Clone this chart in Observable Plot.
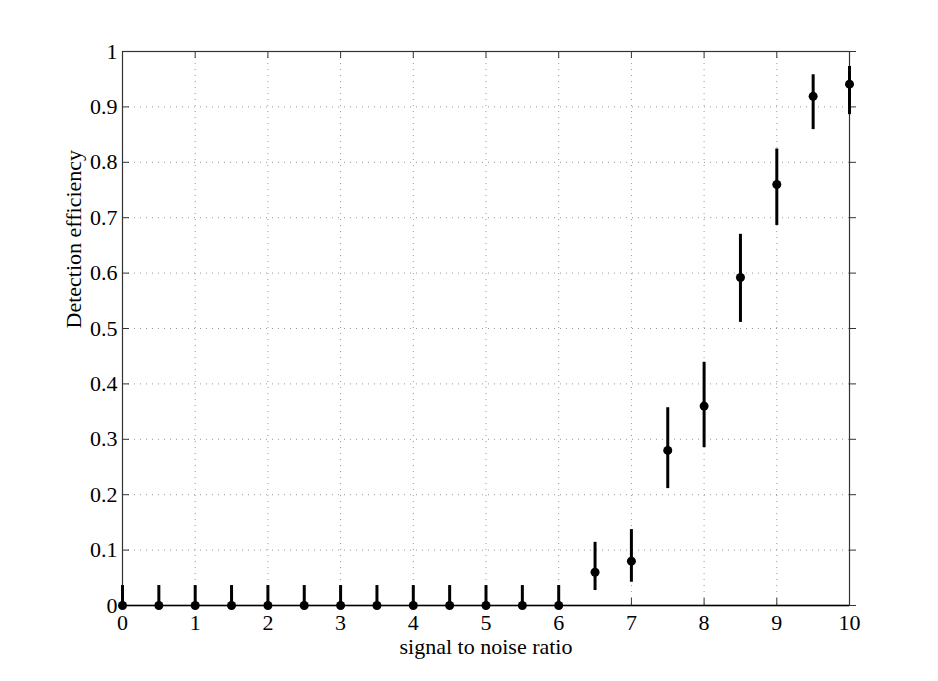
<!DOCTYPE html>
<html>
<head>
<meta charset="utf-8">
<script src="https://cdn.jsdelivr.net/npm/d3@7"></script>
<script src="https://cdn.jsdelivr.net/npm/@observablehq/plot@0.6"></script>
<style>
  html, body { margin: 0; padding: 0; background: #fff; }
  #chart svg text { font-family: 'Liberation Serif', 'Times New Roman', serif !important; font-variant: normal !important; }
</style>
</head>
<body>
<div id="chart"></div>
<script>
// Data
const snr   = [0, 0.5, 1, 1.5, 2, 2.5, 3, 3.5, 4, 4.5, 5, 5.5, 6, 6.5, 7, 7.5, 8, 8.5, 9, 9.5, 10];
const eff   = [0, 0, 0, 0, 0, 0, 0, 0, 0, 0, 0, 0, 0, 0.06, 0.08, 0.28, 0.36, 0.592, 0.76, 0.919, 0.941];
const lower = [0, 0, 0, 0, 0, 0, 0, 0, 0, 0, 0, 0, 0, 0.027, 0.042, 0.211, 0.285, 0.511, 0.686, 0.859, 0.886];
const upper = [0.036, 0.036, 0.036, 0.036, 0.036, 0.036, 0.036, 0.036, 0.036, 0.036, 0.036, 0.036, 0.036, 0.114, 0.137, 0.357, 0.439, 0.67, 0.824, 0.958, 0.973];

const xTicks = [0, 1, 2, 3, 4, 5, 6, 7, 8, 9, 10];
const xTickLabels = ["0", "1", "2", "3", "4", "5", "6", "7", "8", "9", "10"];
const yTicks = [0, 0.1, 0.2, 0.3, 0.4, 0.5, 0.6, 0.7, 0.8, 0.9, 1];
const yTickLabels = ["0", "0.1", "0.2", "0.3", "0.4", "0.5", "0.6", "0.7", "0.8", "0.9", "1"];
const xLabel = "signal to noise ratio";
const yLabel = "Detection efficiency";

const data = snr.map((x, i) => ({x, y: eff[i], lo: lower[i], hi: upper[i]}));
const xGrid = xTicks.slice(1, -1);
const yGrid = yTicks.slice(1, -1);
const serif = "'Liberation Serif', 'Times New Roman', serif";

const chart = Plot.plot({
  width: 938,
  height: 681,
  marginLeft: 122,
  marginRight: 89,
  marginTop: 51,
  marginBottom: 76,
  style: {fontFamily: serif, fontSize: "22px", color: "black", background: "white"},
  x: {domain: [0, 10], axis: null},
  y: {domain: [0, 1], axis: null},
  marks: [
    Plot.gridX(xGrid, {stroke: "#999", strokeOpacity: 1, strokeWidth: 1, strokeDasharray: "1,5"}),
    Plot.gridY(yGrid, {stroke: "#999", strokeOpacity: 1, strokeWidth: 1, strokeDasharray: "1,5"}),
    Plot.frame({stroke: "#333", strokeWidth: 1.2}),
    // inward ticks: bottom
    Plot.ruleX(xTicks, {x: d => d, y1: 0, y2: 0, insetBottom: 7, insetTop: 0, stroke: "#333"}),
    // top
    Plot.ruleX(xTicks, {x: d => d, y1: 1, y2: 1, insetTop: 7, insetBottom: 0, stroke: "#333"}),
    // left
    Plot.ruleY(yTicks, {y: d => d, x1: 0, x2: 0, insetLeft: 0, insetRight: -7, stroke: "#333"}),
    // right
    Plot.ruleY(yTicks, {y: d => d, x1: 10, x2: 10, insetLeft: 7, insetRight: 0, stroke: "#333"}),
    // tick labels
    Plot.text(xTicks, {x: d => d, text: (d, i) => xTickLabels[i], frameAnchor: "bottom", dy: 17, lineAnchor: "middle", fontSize: 22, fill: "black"}),
    Plot.text(yTicks, {y: d => d, text: (d, i) => yTickLabels[i], frameAnchor: "left", dx: -5, textAnchor: "end", lineAnchor: "middle", fontSize: 22, fill: "black"}),
    Plot.ruleY([0], {stroke: "black", strokeWidth: 1.5}),
    Plot.ruleX(data, {x: "x", y1: "lo", y2: "hi", stroke: "black", strokeWidth: 3}),
    Plot.dot(data, {x: "x", y: "y", r: 4.5, fill: "black", stroke: "none"}),
    Plot.text([xLabel], {text: d => d, frameAnchor: "bottom", dy: 41, fontSize: 22, fill: "black", lineAnchor: "middle"}),
    Plot.text([yLabel], {text: d => d, frameAnchor: "left", dx: -49, rotate: -90, fontSize: 22, fill: "black", lineAnchor: "middle"})
  ]
});
document.getElementById("chart").appendChild(chart);
</script>
</body>
</html>
